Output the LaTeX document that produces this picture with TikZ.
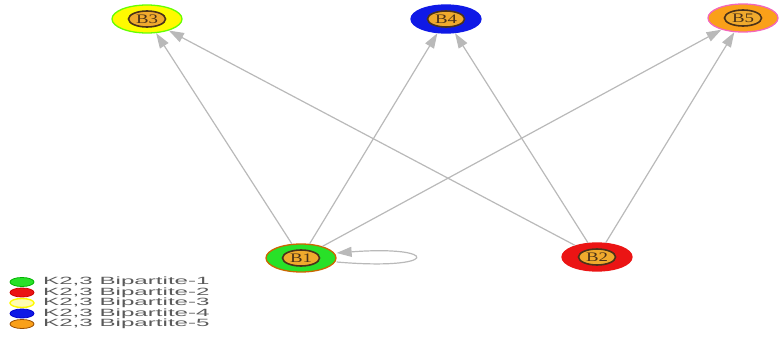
\documentclass[tikz,border=0pt]{standalone}
\usepackage{fontspec}
\setmainfont{Liberation Serif}
\setsansfont{Liberation Sans}
\usetikzlibrary{shapes.geometric,arrows.meta}

\definecolor{bgreen}{RGB}{40,225,40}
\definecolor{bred}{RGB}{235,20,20}
\definecolor{byellow}{RGB}{255,250,0}
\definecolor{bblue}{RGB}{15,25,230}
\definecolor{borange}{RGB}{250,160,25}
\definecolor{coreorange}{RGB}{240,170,45}
\definecolor{corebrown}{RGB}{75,50,25}
\definecolor{linkgray}{RGB}{185,185,185}
\definecolor{keygray}{RGB}{90,90,90}

\begin{document}
\begin{tikzpicture}[x=1pt,y=-1pt,
  vertex/.style={ellipse, minimum width=70pt, minimum height=28pt, inner sep=0pt, line width=1.3pt},
  core/.style={ellipse, fill=coreorange, draw=corebrown, line width=1.6pt, minimum width=37pt, minimum height=16pt, inner sep=0pt, text=corebrown, font=\fontsize{13}{13}\selectfont},
  link/.style={draw=linkgray, line width=1.2pt, -{Triangle[length=15pt,width=10pt]}},
  key/.style={ellipse, minimum width=24pt, minimum height=9pt, inner sep=0pt, line width=0.8pt},
  keytext/.style={anchor=west, inner sep=0pt, text=keygray, font=\sffamily\fontsize{10.5}{10.5}\selectfont}]
  \useasboundingbox (0,0) rectangle (779,337);

  % vertices
  \node[vertex, fill=byellow, draw=green!60!yellow] (B3) at (147,19) {};
  \node[core] (B3in) at (B3) {\scalebox{1.45}[1]{B3}};
  \node[vertex, fill=bblue, draw=bblue] (B4) at (446,19) {};
  \node[core] (B4in) at (B4) {\scalebox{1.45}[1]{B4}};
  \node[vertex, fill=borange, draw=magenta!60] (B5) at (743,18) {};
  \node[core] (B5in) at (B5) {\scalebox{1.45}[1]{B5}};
  \node[vertex, fill=bgreen, draw=orange!80!black] (B1) at (301,258) {};
  \node[core] (B1in) at (B1) {\scalebox{1.45}[1]{B1}};
  \node[vertex, fill=bred, draw=bred] (B2) at (597,257) {};
  \node[core] (B2in) at (B2) {\scalebox{1.45}[1]{B2}};

  % links
  \draw[link] (B1) -- (B3);
  \draw[link] (B1) -- (B4);
  \draw[link] (B1) -- (B5);
  \draw[link] (B2) -- (B3);
  \draw[link] (B2) -- (B4);
  \draw[link] (B2) -- (B5);
  \draw[link] ([yshift=-4pt]B1.east) .. controls (441,271) and (441,245) .. ([yshift=5pt]B1.east);

  % legend
  \node[key, fill=bgreen, draw=green!70!black] (k1) at (22,282) {};
  \node[key, fill=bred, draw=red!80!black] (k2) at (22,292.5) {};
  \node[key, fill=yellow!30, draw=byellow, line width=1.4pt] (k3) at (22,303) {};
  \node[key, fill=bblue, draw=blue!80!black] (k4) at (22,313.5) {};
  \node[key, fill=borange, draw=orange!60!black] (k5) at (22,324) {};
  \node[keytext] (t1) at (43,282) {\scalebox{2.3}[1]{K2,3 Bipartite-1}};
  \node[keytext] (t2) at (43,292.5) {\scalebox{2.3}[1]{K2,3 Bipartite-2}};
  \node[keytext] (t3) at (43,303) {\scalebox{2.3}[1]{K2,3 Bipartite-3}};
  \node[keytext] (t4) at (43,313.5) {\scalebox{2.3}[1]{K2,3 Bipartite-4}};
  \node[keytext] (t5) at (43,324) {\scalebox{2.3}[1]{K2,3 Bipartite-5}};
\end{tikzpicture}
\end{document}
